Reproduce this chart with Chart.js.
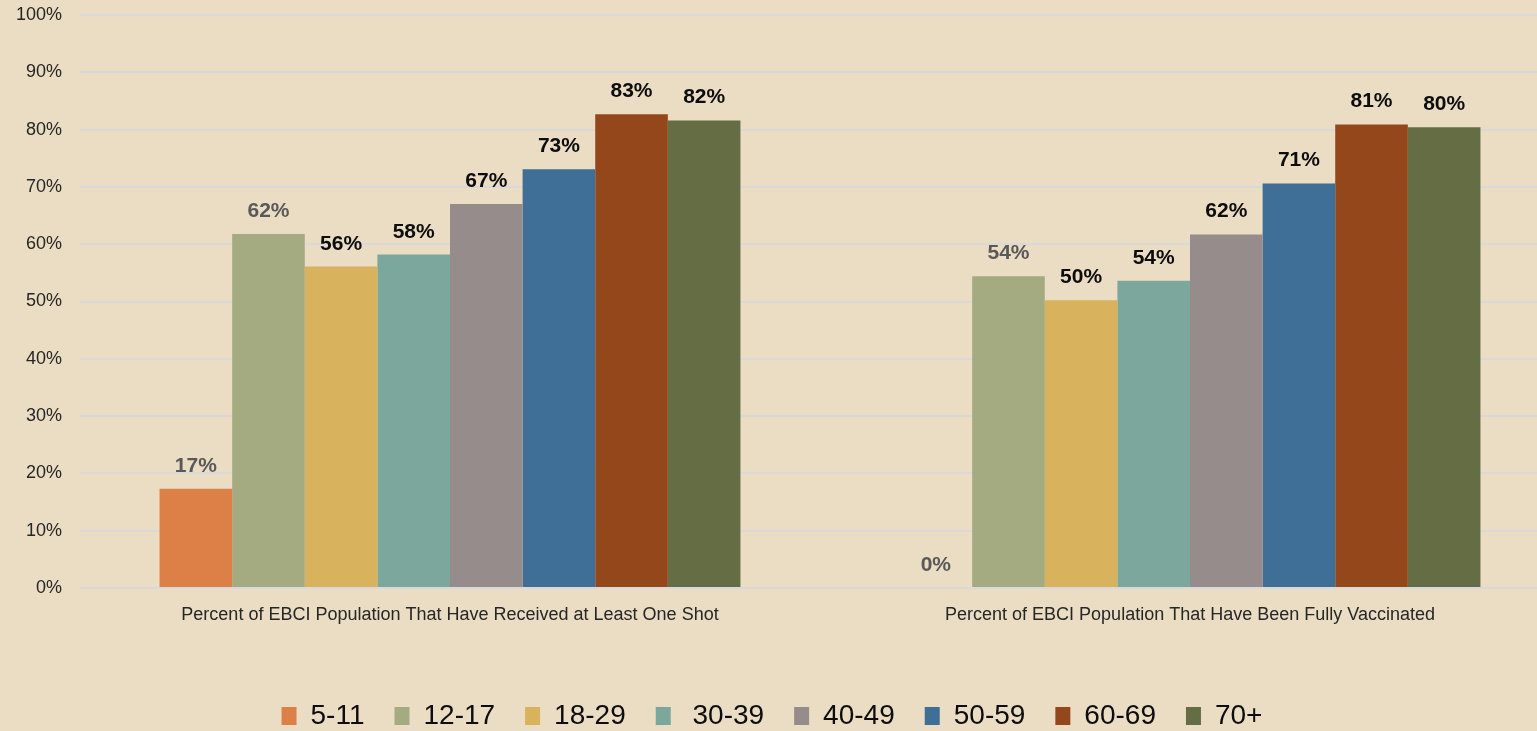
<!DOCTYPE html>
<html>
<head>
<meta charset="utf-8">
<script src="https://cdn.jsdelivr.net/npm/chart.js@4/dist/chart.umd.min.js"></script>
<style>
  html, body { margin: 0; padding: 0; background: #EBDDC3; overflow: hidden; }
  #wrap { width: 1565px; height: 731px; }
</style>
</head>
<body>
<div id="wrap"><canvas id="vaxChart" width="1565" height="731"></canvas></div>
<script>
// Data
const categories = [
  'Percent of EBCI Population That Have Received at Least One Shot',
  'Percent of EBCI Population That Have Been Fully Vaccinated'
];
const ageGroups = ['5-11', '12-17', '18-29', ' 30-39', '40-49', '50-59', '60-69', '70+'];
const atLeastOneShot = [17.3, 61.8, 56.1, 58.2, 67.0, 73.1, 82.7, 81.6];
const fullyVaccinated = [0, 54.4, 50.2, 53.6, 61.7, 70.6, 80.9, 80.4];
const yTicks = [0, 10, 20, 30, 40, 50, 60, 70, 80, 90, 100];

const barColors = ['#DD8047', '#A5AB81', '#D8B25C', '#7BA79D', '#968C8C', '#3F6E96', '#94471A', '#656D45'];
const labelColors = ['#595959', '#595959', '#0D0D0D', '#0D0D0D', '#0D0D0D', '#0D0D0D', '#0D0D0D', '#0D0D0D'];

const FONT = "'Liberation Sans', Arial, sans-serif";
const LEGEND_PAD = 30;
const LEGEND_FONT = 28;

// value labels above each bar
const barLabels = {
  id: 'barLabels',
  afterDatasetsDraw(chart) {
    const ctx = chart.ctx;
    ctx.save();
    ctx.font = 'bold 21px ' + FONT;
    ctx.textAlign = 'center';
    ctx.textBaseline = 'alphabetic';
    chart.data.datasets.forEach((ds, i) => {
      const meta = chart.getDatasetMeta(i);
      meta.data.forEach((bar, j) => {
        ctx.fillStyle = labelColors[i];
        ctx.fillText(Math.round(ds.data[j]) + '%', bar.x, bar.y - 17);
      });
    });
    ctx.restore();
  }
};

// put the legend row near the bottom edge, a bit left of centre like the original
const legendNudge = {
  id: 'legendNudge',
  afterLayout(chart) {
    const lg = chart.legend;
    if (!lg) return;
    const dy = (chart.height - 15) - (lg.top + LEGEND_PAD + LEGEND_FONT / 2);
    lg.top += dy;
    lg.bottom += dy;
    lg.left -= 8;
    lg.right -= 8;
  }
};

const datasets = ageGroups.map((g, i) => ({
  label: g,
  data: [atLeastOneShot[i], fullyVaccinated[i]],
  backgroundColor: barColors[i],
  borderWidth: 0,
  barPercentage: 1,
  categoryPercentage: 0.785
}));

new Chart(document.getElementById('vaxChart'), {
  type: 'bar',
  data: { labels: categories, datasets: datasets },
  plugins: [barLabels, legendNudge],
  options: {
    responsive: false,
    devicePixelRatio: 1,
    animation: false,
    events: [],
    layout: { padding: { top: 15, right: 5, left: 0, bottom: 0 } },
    plugins: {
      tooltip: { enabled: false },
      legend: {
        position: 'bottom',
        labels: {
          boxWidth: 15,
          boxHeight: 18,
          padding: LEGEND_PAD,
          color: '#0D0D0D',
          font: { family: FONT, size: LEGEND_FONT }
        }
      }
    },
    scales: {
      x: {
        grid: { display: false },
        border: { display: false },
        ticks: {
          color: '#262626',
          padding: 8,
          maxRotation: 0,
          autoSkip: false,
          font: { family: FONT, size: 18 }
        },
        afterFit(scale) { scale.height = 75; }
      },
      y: {
        min: 0,
        max: 100,
        afterBuildTicks(scale) { scale.ticks = yTicks.map(v => ({ value: v })); },
        grid: { color: '#D9D9D9', lineWidth: 2, drawTicks: false },
        border: { display: false },
        ticks: {
          color: '#262626',
          padding: 18,
          font: { family: FONT, size: 18 },
          callback: v => v + '%'
        },
        afterFit(scale) {
          scale.width = 80;
          scale.paddingTop = 0;
          scale.paddingBottom = 0;
        }
      }
    }
  }
});
</script>
</body>
</html>
